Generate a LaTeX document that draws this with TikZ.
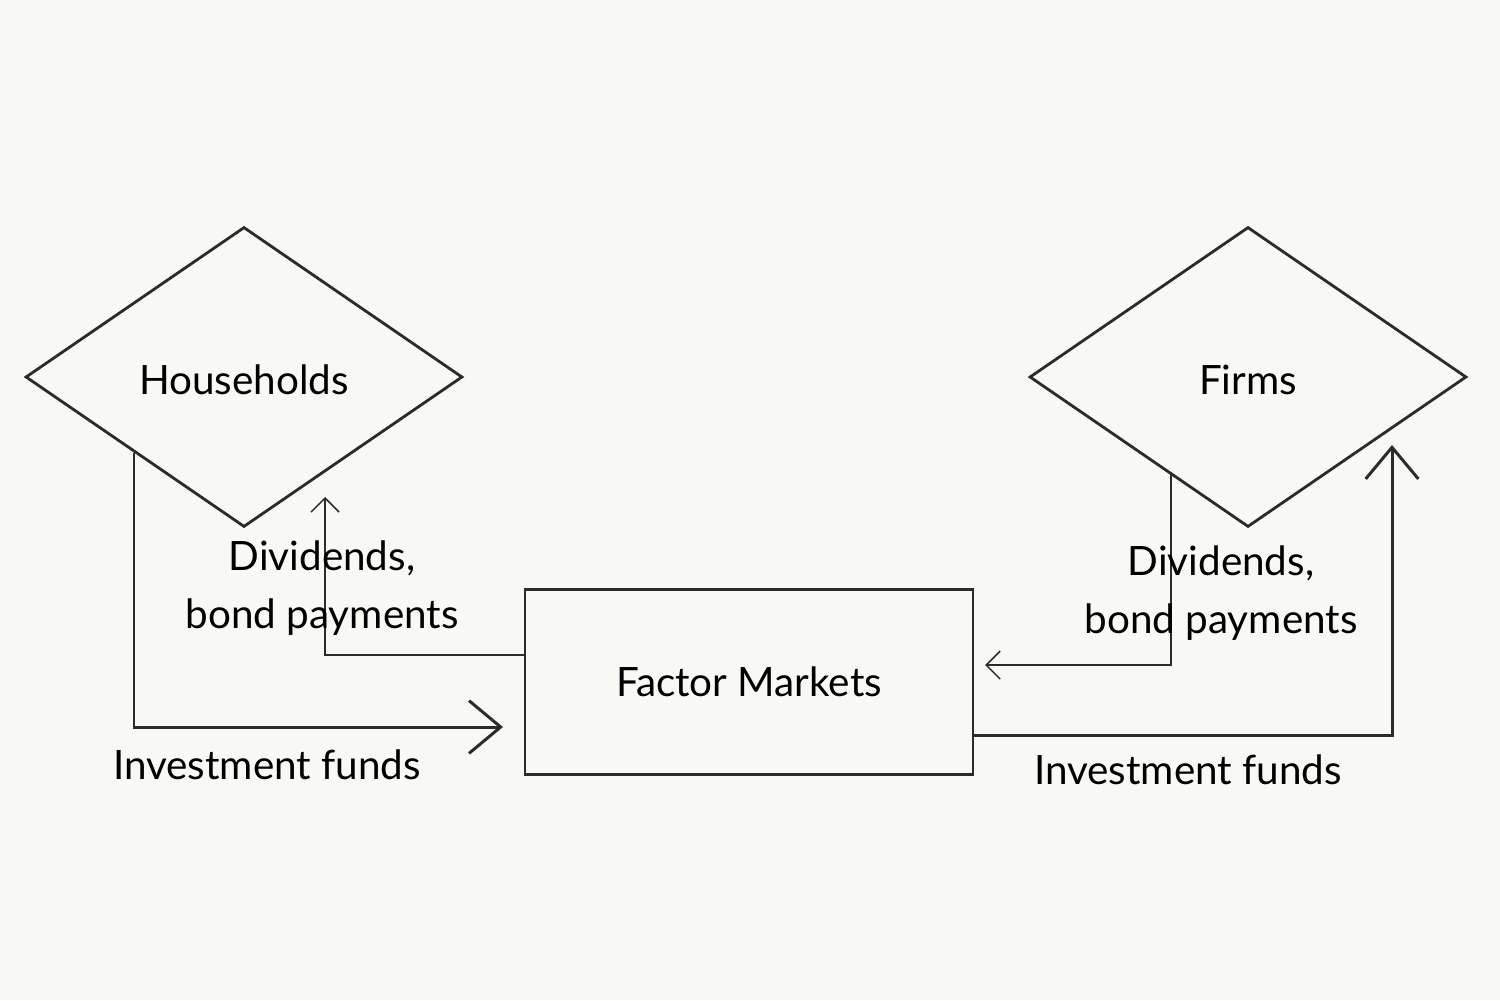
\documentclass[tikz,border=0pt]{standalone}
\usepackage{fontspec}
\setmainfont{Lato}
\usetikzlibrary{shapes.geometric,arrows.meta}
\definecolor{bg}{HTML}{F8F8F4}
\definecolor{ink}{HTML}{2B2B2B}
\begin{document}
\begin{tikzpicture}[x=0.02cm,y=-0.02cm,
  lbl/.style={font=\fontsize{23}{33}\selectfont,text=black,align=center},
  dia/.style={diamond,draw=ink,line width=1.6pt,minimum width=8.74cm,minimum height=6cm,inner sep=0pt},
  thick line/.style={draw=ink,line width=1.7pt,-{Straight Barb[length=18pt,width=30pt,line width=1.7pt]}},
  thin line/.style={draw=ink,line width=0.9pt,-{Straight Barb[length=8pt,width=16pt,line width=0.9pt]}}]
\fill[bg] (0,0) rectangle (1500,1000);
\useasboundingbox (0,0) rectangle (1500,1000);
\node[dia] (hh) at (244,377) {};
\node[lbl] at (244,380) {Households};
\node[dia] (fi) at (1248,377) {};
\node[lbl] at (1248,380) {Firms};
\node[draw=ink,line width=1.6pt,minimum width=8.96cm,minimum height=3.7cm,inner sep=0pt,lbl] (fm) at (749,682) {Factor Markets};
\coordinate (a1) at (134,453);
\coordinate (a2) at (503,727);
\draw[thick line] (a1) -- (134,727) -- (a2);
\coordinate (b1) at (fm.west |- 0,655);
\coordinate (b2) at (325,497);
\draw[thin line] (b1) -- (325,655) -- (b2);
\coordinate (c1) at (1171,475);
\coordinate (c2) at (985,665);
\draw[thin line] (c1) -- (1171,665) -- (c2);
\coordinate (d1) at (fm.east |- 0,735);
\coordinate (d2) at (1392,445);
\draw[thick line] (d1) -- (1392,735) -- (d2);
\node[lbl] (l1) at (322,588) {Dividends,\\bond payments};
\node[lbl] (l2) at (1221,593) {Dividends,\\bond payments};
\node[lbl] (l3) at (267,765) {Investment funds};
\node[lbl] (l4) at (1188,770) {Investment funds};
\end{tikzpicture}
\end{document}
